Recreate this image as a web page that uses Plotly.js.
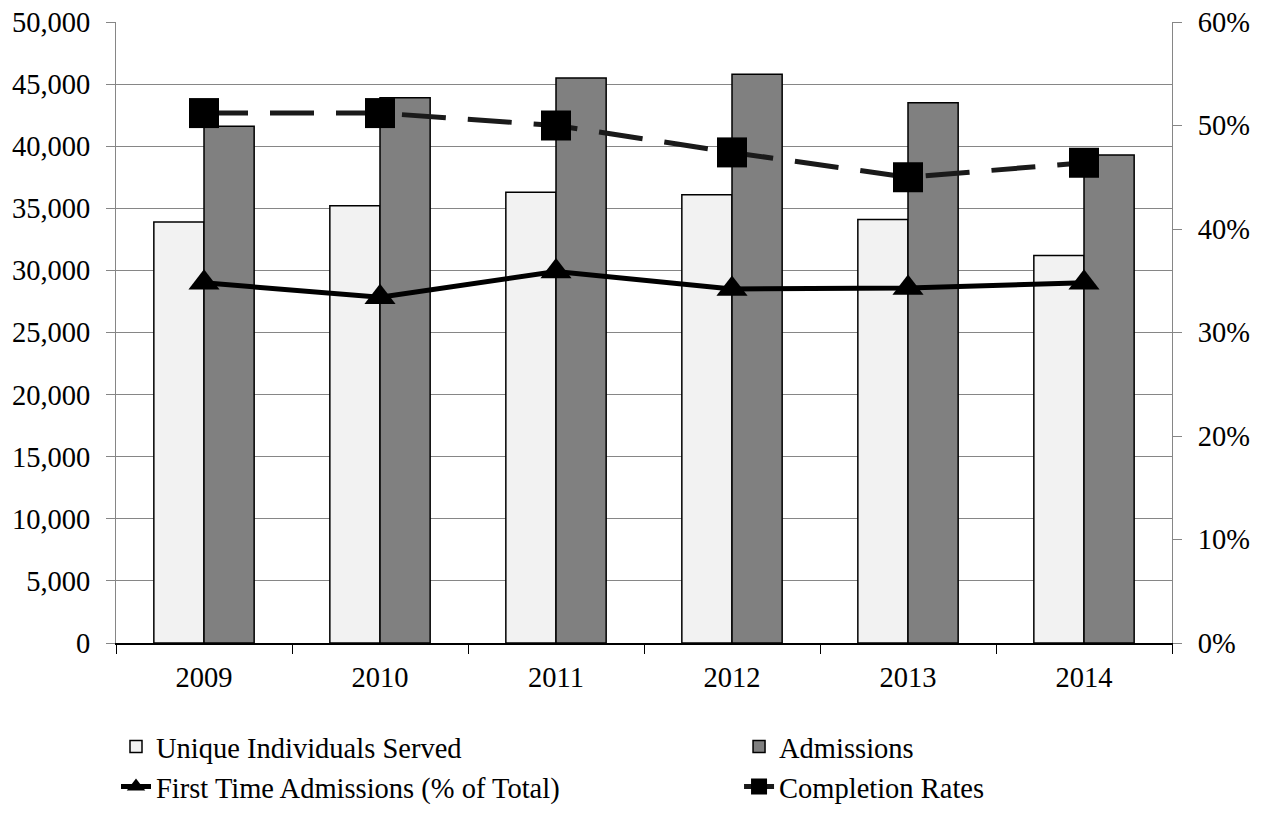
<!DOCTYPE html>
<html>
<head>
<meta charset="utf-8">
<script src="https://cdn.plot.ly/plotly-3.0.1.min.js"></script>
<style>
  html, body { margin: 0; padding: 0; background: #fff; }
  #chart { width: 1262px; height: 818px; }
</style>
</head>
<body>
<div id="chart"></div>
<script>
// Program activity by year
const years = ['2009', '2010', '2011', '2012', '2013', '2014'];
const uniqueServed = [33900, 35200, 36300, 36100, 34100, 31200];
const admissions = [41600, 43900, 45500, 45800, 43500, 39300];
const firstTimePct = [0.348, 0.334, 0.359, 0.342, 0.343, 0.348];
const completionPct = [0.512, 0.512, 0.500, 0.474, 0.450, 0.464];

const FONT = 'Liberation Serif, Times New Roman, serif';
const FS = 28.5;
const GRID = '#868686';

const traces = [
  {
    type: 'bar', name: 'Unique Individuals Served', x: years, y: uniqueServed,
    marker: { color: '#f2f2f2', line: { color: '#000', width: 1.5 } },
    legend: 'legend'
  },
  {
    type: 'bar', name: 'Admissions', x: years, y: admissions,
    marker: { color: '#808080', line: { color: '#000', width: 1.5 } },
    legend: 'legend2'
  },
  {
    type: 'scatter', mode: 'lines+markers', name: 'First Time Admissions (% of Total)',
    x: years, y: firstTimePct, yaxis: 'y2',
    line: { color: '#000', width: 5 },
    marker: { symbol: 'triangle-up', size: 27, color: '#000' },
    legend: 'legend'
  },
  {
    type: 'scatter', mode: 'lines+markers', name: 'Completion Rates',
    x: years, y: completionPct, yaxis: 'y2',
    line: { color: '#1a1a1a', width: 5, dash: '44px,22px' },
    marker: { symbol: 'square', size: 30, color: '#000' },
    legend: 'legend2'
  }
];

// Two legend columns under the plot
const legendBase = {
  orientation: 'v', yanchor: 'top', xanchor: 'left',
  font: { family: FONT, size: FS, color: '#000' },
  bgcolor: 'rgba(0,0,0,0)', tracegroupgap: 0, itemwidth: 30
};

const tickFont = { family: FONT, size: FS, color: '#000' };

const layout = {
  width: 1262, height: 818,
  margin: { l: 115.5, r: 90, t: 22, b: 175, autoexpand: false },
  paper_bgcolor: '#fff', plot_bgcolor: '#fff',
  font: { family: FONT, size: FS, color: '#000' },
  barmode: 'group', bargap: 0.43, bargroupgap: 0,
  showlegend: true,
  legend: Object.assign({}, legendBase, { x: 0.0, y: -0.1264 }),
  legend2: Object.assign({}, legendBase, { x: 0.59, y: -0.1264 }),
  xaxis: {
    type: 'category', range: [-0.5, 5.5],
    showline: true, linecolor: '#000', linewidth: 1.5,
    ticks: 'outside', tickson: 'boundaries', ticklen: 9, tickcolor: '#000', tickwidth: 1,
    ticklabelstandoff: 8,
    showgrid: false, zeroline: false,
    tickfont: tickFont
  },
  yaxis: {
    range: [0, 50000], dtick: 5000, tickformat: ',',
    showgrid: true, gridcolor: GRID, gridwidth: 1,
    showline: true, linecolor: GRID, linewidth: 1,
    ticks: 'outside', ticklen: 9, tickcolor: GRID,
    ticklabelstandoff: 10,
    zeroline: false,
    tickfont: tickFont
  },
  yaxis2: {
    overlaying: 'y', side: 'right', range: [0, 0.6], dtick: 0.1, tickformat: '.0%',
    showgrid: false, showline: true, linecolor: GRID, linewidth: 1,
    ticks: 'outside', ticklen: 9, tickcolor: GRID,
    ticklabelstandoff: 10,
    zeroline: false,
    tickfont: tickFont
  }
};

Plotly.newPlot('chart', traces, layout, { displayModeBar: false, staticPlot: true });
</script>
</body>
</html>
